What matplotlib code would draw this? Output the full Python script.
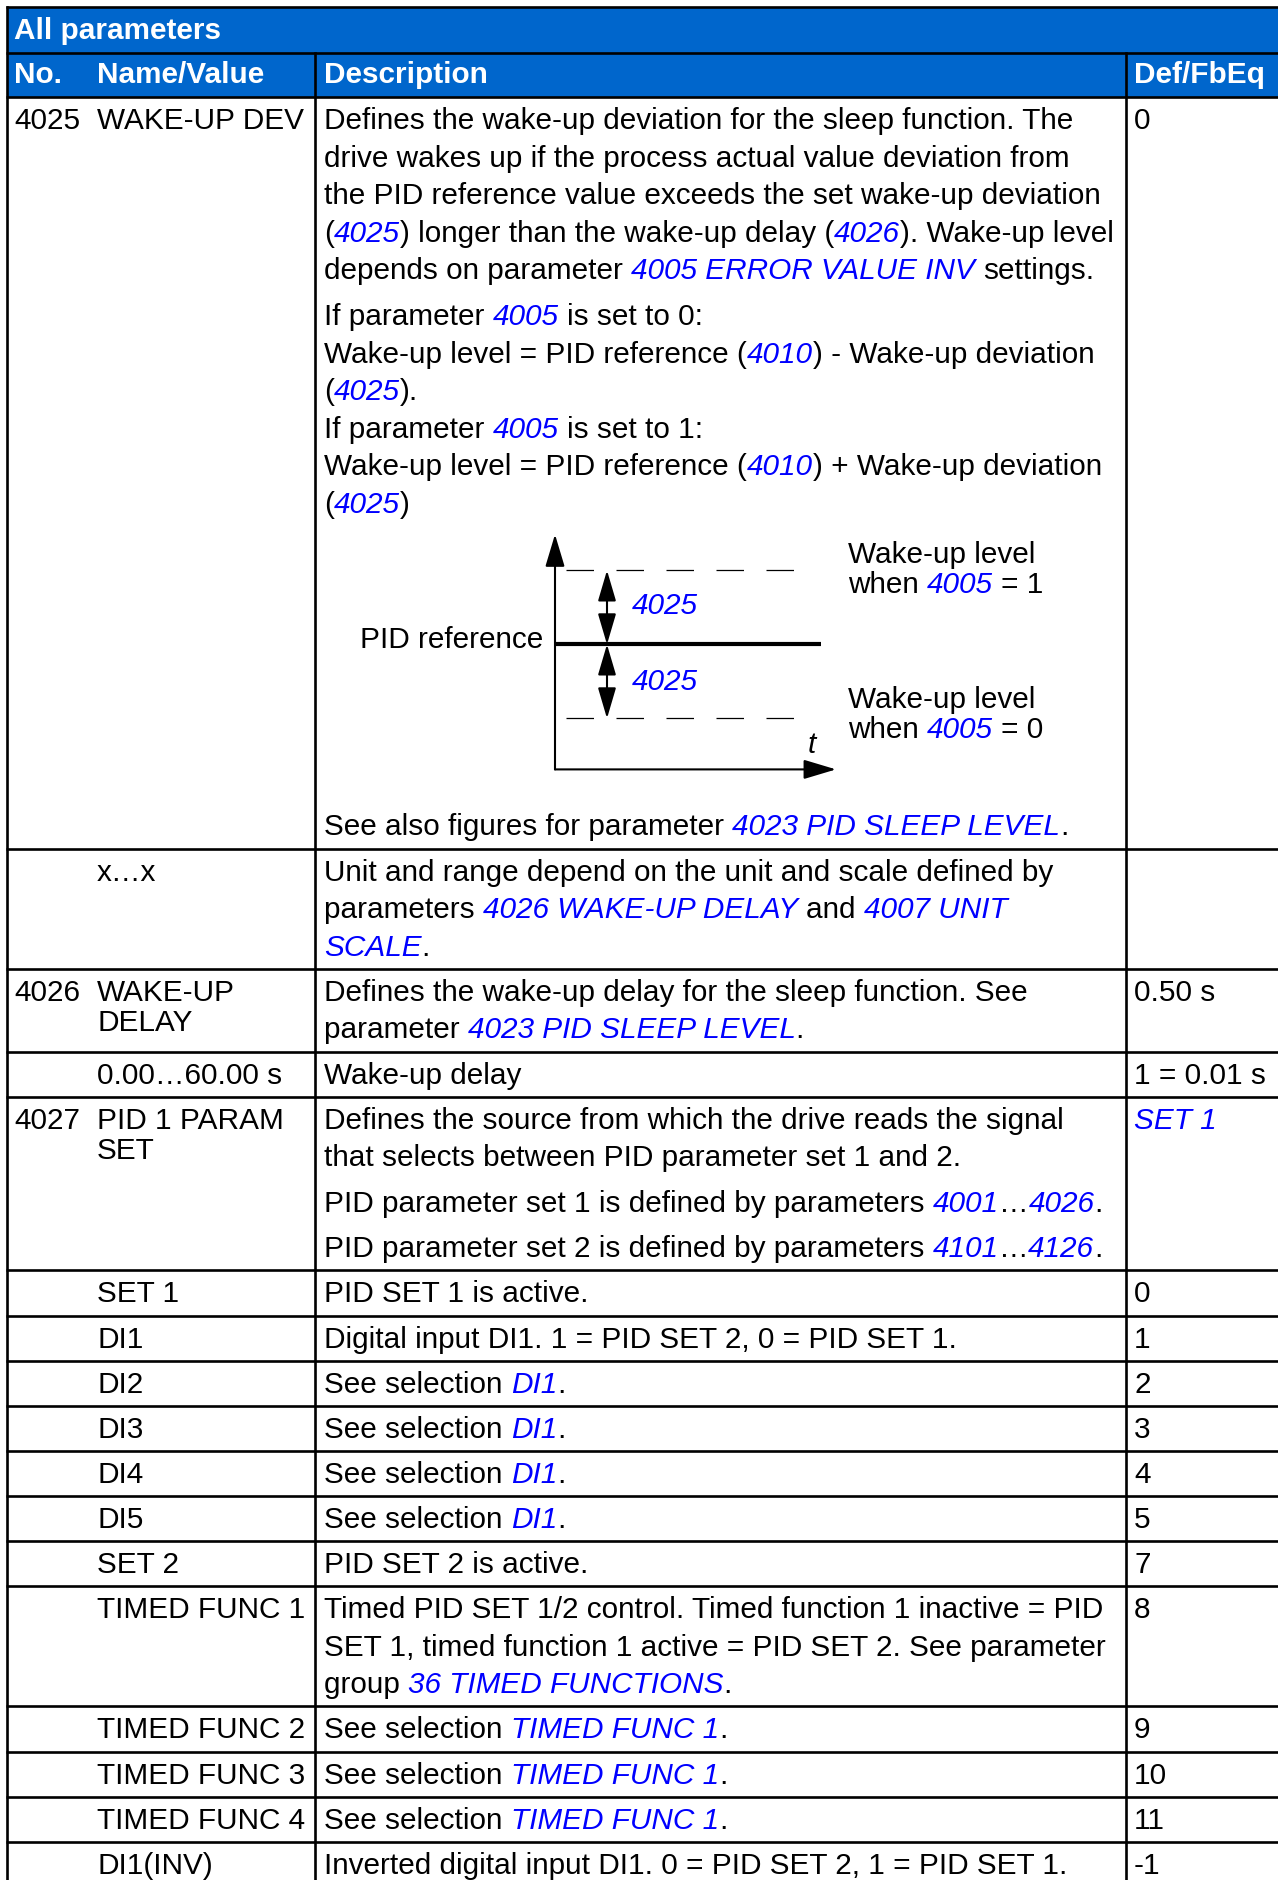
import re
import matplotlib
matplotlib.use("Agg")
import matplotlib.pyplot as plt
from matplotlib.font_manager import FontProperties
from matplotlib.patches import Rectangle

# ---- table content ({...} marks a blue italic cross reference) ----
title = "All parameters"
headers = ["No.", "Name/Value", "Description", "Def/FbEq"]

FIGURE = "<figure>"

param_no = ["4025", "", "4026", "", "4027", "", "", "", "", "", "", "", "", "", "", "", ""]

names = [
    ["WAKE-UP DEV"], ["x…x"], ["WAKE-UP", "DELAY"], ["0.00…60.00 s"],
    ["PID 1 PARAM", "SET"], ["SET 1"], ["DI1"], ["DI2"], ["DI3"], ["DI4"], ["DI5"],
    ["SET 2"], ["TIMED FUNC 1"], ["TIMED FUNC 2"], ["TIMED FUNC 3"],
    ["TIMED FUNC 4"], ["DI1(INV)"],
]

descriptions = [
    [["Defines the wake-up deviation for the sleep function. The",
      "drive wakes up if the process actual value deviation from",
      "the PID reference value exceeds the set wake-up deviation",
      "({4025}) longer than the wake-up delay ({4026}). Wake-up level",
      "depends on parameter {4005 ERROR VALUE INV} settings."],
     ["If parameter {4005} is set to 0:",
      "Wake-up level = PID reference ({4010}) - Wake-up deviation",
      "({4025}).",
      "If parameter {4005} is set to 1:",
      "Wake-up level = PID reference ({4010}) + Wake-up deviation",
      "({4025})"],
     FIGURE,
     ["See also figures for parameter {4023 PID SLEEP LEVEL}."]],
    [["Unit and range depend on the unit and scale defined by",
      "parameters {4026 WAKE-UP DELAY} and {4007 UNIT}",
      "{SCALE}."]],
    [["Defines the wake-up delay for the sleep function. See",
      "parameter {4023 PID SLEEP LEVEL}."]],
    [["Wake-up delay"]],
    [["Defines the source from which the drive reads the signal",
      "that selects between PID parameter set 1 and 2."],
     ["PID parameter set 1 is defined by parameters {4001}…{4026}."],
     ["PID parameter set 2 is defined by parameters {4101}…{4126}."]],
    [["PID SET 1 is active."]],
    [["Digital input DI1. 1 = PID SET 2, 0 = PID SET 1."]],
    [["See selection {DI1}."]],
    [["See selection {DI1}."]],
    [["See selection {DI1}."]],
    [["See selection {DI1}."]],
    [["PID SET 2 is active."]],
    [["Timed PID SET 1/2 control. Timed function 1 inactive = PID",
      "SET 1, timed function 1 active = PID SET 2. See parameter",
      "group {36 TIMED FUNCTIONS}."]],
    [["See selection {TIMED FUNC 1}."]],
    [["See selection {TIMED FUNC 1}."]],
    [["See selection {TIMED FUNC 1}."]],
    [["Inverted digital input DI1. 0 = PID SET 2, 1 = PID SET 1."]],
]

defaults = ["0", "", "0.50 s", "1 = 0.01 s", "{SET 1}", "0", "1", "2", "3",
            "4", "5", "7", "8", "9", "10", "11", "-1"]

# diagram labels
diag_ref_label = "PID reference"
diag_dev_label = "{4025}"
diag_upper_label = ["Wake-up level", "when {4005} = 1"]
diag_lower_label = ["Wake-up level", "when {4005} = 0"]
diag_time_label = "t"

# ---- look ----
W, H = 1278, 1880
FAMILY = ["Liberation Sans", "DejaVu Sans"]
FS = 21.45
BAND = "#0066cc"
LINK = "#0000ff"
LW = 1.9

X_LEFT, X_NO, X_NAME, X_COL1, X_DESC, X_COL2, X_DEF = 6.5, 14, 97, 315, 324, 1126, 1134
Y_TOP, Y_HEAD, Y_BODY = 7, 53, 97
TOP_PAD, LINE, PARA, BOTTOM, NAME_LINE = 32, 37.6, 8, 13.1, 30.5
FIG_STEP, FIG_ANCHOR, FIG_X = 322.4, 131.4, 555

plt.rcParams['font.family'] = FAMILY
fig = plt.figure(figsize=(W / 100, H / 100), dpi=100)
ax = fig.add_axes([0, 0, 1, 1])
ax.set_xlim(0, W)
ax.set_ylim(H, 0)
ax.axis("off")
renderer = fig.canvas.get_renderer()


def fprop(style="normal", weight="normal", size=FS):
    return FontProperties(family=FAMILY, size=size, style=style, weight=weight)


def seg_width(s, prop):
    w1 = renderer.get_text_width_height_descent("|" + s + "|", prop, ismath=False)[0]
    w0 = renderer.get_text_width_height_descent("||", prop, ismath=False)[0]
    return w1 - w0


def draw_rich(x, y, line, color="black", weight="normal", ha="left"):
    parts = [p for p in re.split(r"(\{[^}]*\})", line) if p]
    segs = []
    for p in parts:
        link = p.startswith("{")
        txt = p[1:-1] if link else p
        prop = fprop("italic" if link else "normal", weight)
        segs.append((txt, prop, LINK if link else color))
    if ha == "right":
        x -= sum(seg_width(t, p) for t, p, _ in segs)
    for txt, prop, col in segs:
        lead = txt[:len(txt) - len(txt.lstrip(" "))]
        ax.text(x + seg_width(lead, prop), y, txt.lstrip(" "), fontproperties=prop,
                color=col, va="baseline", ha="left")
        x += seg_width(txt, prop)


def arrow(tail, tip, style):
    ax.annotate("", xy=tip, xytext=tail,
                arrowprops=dict(arrowstyle=style, color="black", lw=1.5,
                                shrinkA=0, shrinkB=0, mutation_scale=20))


def draw_diagram(y_prev):
    x0, y0 = FIG_X, y_prev + FIG_ANCHOR
    head = "-|>,head_length=1.0,head_width=0.3"
    dbl = "<|-|>,head_length=0.95,head_width=0.28"
    # axes
    arrow((x0, y0 + 125), (x0, y0 - 110), head)
    arrow((x0, y0 + 125), (x0 + 281, y0 + 125), head)
    # reference and wake-up levels
    ax.plot([x0, x0 + 266], [y0, y0], color="black", lw=3, solid_capstyle="butt")
    ax.plot([x0 + 11, x0 + 254], [y0 - 74, y0 - 74], color="black", lw=0.9, dashes=(22, 18))
    ax.plot([x0 + 11, x0 + 246], [y0 + 74, y0 + 74], color="black", lw=0.9, dashes=(22, 18))
    arrow((x0 + 52, y0), (x0 + 52, y0 - 74), dbl)
    arrow((x0 + 52, y0), (x0 + 52, y0 + 74), dbl)
    # labels
    draw_rich(x0 - 12, y0 + 4, diag_ref_label, ha="right")
    draw_rich(x0 + 77, y0 - 30, diag_dev_label)
    draw_rich(x0 + 77, y0 + 46, diag_dev_label)
    for i, s in enumerate(diag_upper_label):
        draw_rich(x0 + 293, y0 - 81 + i * 29.5, s)
    for i, s in enumerate(diag_lower_label):
        draw_rich(x0 + 293, y0 + 64 + i * 29.5, s)
    ax.text(x0 + 253, y0 + 109, diag_time_label, fontproperties=fprop("italic"),
            va="baseline", ha="left")


# ---- header band ----
ax.add_patch(Rectangle((X_LEFT, Y_TOP), W - X_LEFT, Y_BODY - Y_TOP, color=BAND, lw=0))
draw_rich(X_NO, 39, title, color="white", weight="bold")
for x, h in zip([X_NO, X_NAME, X_DESC, X_DEF], headers):
    draw_rich(x, 83, h, color="white", weight="bold")

hlines = [Y_TOP, Y_HEAD, Y_BODY]

# ---- body rows ----
y_top = Y_BODY
for no, nm, desc, dflt in zip(param_no, names, descriptions, defaults):
    b = y_top + TOP_PAD
    if no:
        draw_rich(X_NO, b, no)
    for i, s in enumerate(nm):
        draw_rich(X_NAME, b + i * NAME_LINE, s)
    if dflt:
        draw_rich(X_DEF, b, dflt)
    first, after_fig = True, False
    for para in desc:
        if para == FIGURE:
            draw_diagram(b)
            b += FIG_STEP
            after_fig = True
            continue
        if not first and not after_fig:
            b += LINE + PARA
        for i, line in enumerate(para):
            if i:
                b += LINE
            draw_rich(X_DESC, b, line)
        first, after_fig = False, False
    y_top = b + BOTTOM
    hlines.append(y_top)

# ---- grid lines ----
for y in hlines:
    ax.plot([X_LEFT - 1, W], [y, y], color="black", lw=LW, solid_capstyle="butt")
ax.plot([X_LEFT, X_LEFT], [Y_TOP, H], color="black", lw=LW)
for x in (X_COL1, X_COL2):
    ax.plot([x, x], [Y_HEAD, H], color="black", lw=LW)

fig.savefig("out.png", dpi=100)
